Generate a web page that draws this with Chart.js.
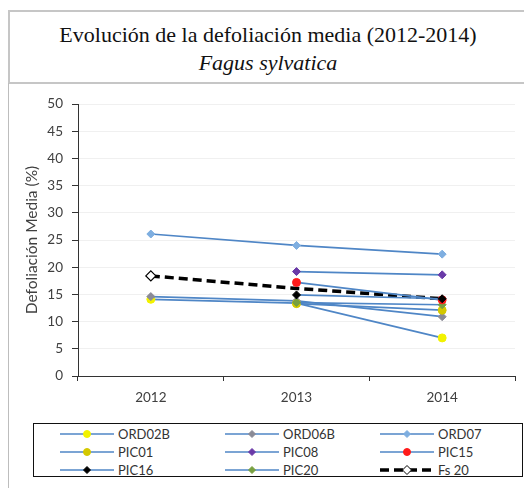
<!DOCTYPE html>
<html>
<head>
<meta charset="utf-8">
<script src="https://cdn.jsdelivr.net/npm/chart.js@4/dist/chart.umd.min.js"></script>
<style>
  html, body { margin: 0; padding: 0; background: #fff; }
  body { width: 524px; height: 488px; position: relative; overflow: hidden; }
  #titlebox {
    position: absolute; left: 8px; top: 10px; width: 530px; height: 70px;
    border: 2px solid #c6c6c6; box-sizing: content-box;
  }
  #titlebox div {
    position: absolute; left: 0; width: 516px; text-align: center;
    font-family: "Liberation Serif", serif; font-size: 22px; color: #111;
  }
  #t1 { top: 10px; }
  #t2 { top: 38px; font-style: italic; }
  #frame { position: absolute; left: 8px; top: 83px; width: 1px; height: 405px; background: #bdbdbd; }
  #wrap { position: absolute; left: 0; top: 83px; width: 524px; height: 340px; }
  #legend {
    position: absolute; left: 33px; top: 423px; width: 490px; height: 54px;
    border: 1px solid #111; box-sizing: border-box;
    font-family: Lato, "Open Sans", sans-serif; font-size: 13px; color: #333;
  }
  .item { position: absolute; height: 14px; line-height: 14px; white-space: nowrap; }
  .item canvas { position: absolute; left: 0; top: 1px; }
  .item span { position: absolute; left: 58px; top: 0; }
</style>
</head>
<body>
<div id="titlebox">
  <div id="t1">Evolución de la defoliación media (2012-2014)</div>
  <div id="t2">Fagus sylvatica</div>
</div>
<div id="frame"></div>
<div id="wrap"><canvas id="chart" width="524" height="340"></canvas></div>
<div id="legend"></div>
<script>
var years = ["2012", "2013", "2014"];

var seriesNames = ["ORD02B", "ORD06B", "ORD07", "PIC01", "PIC08", "PIC15", "PIC16", "PIC20", "Fs 20"];

var ord02b = [14.1, 13.4, 7.0];
var ord06b = [14.6, 13.8, 10.9];
var ord07 = [26.1, 24.0, 22.4];
var pic01 = [null, 13.3, 12.1];
var pic08 = [null, 19.2, 18.6];
var pic15 = [null, 17.2, 14.0];
var pic16 = [null, 14.9, 14.2];
var pic20 = [null, 13.5, 13.1];
var fs20 = [18.4, 16.1, 14.2];

var seriesValues = [ord02b, ord06b, ord07, pic01, pic08, pic15, pic16, pic20, fs20];

var LINE = "#4f86c6";
var markerColors = ["#f2f200", "#8a8a96", "#7eaee0", "#d4c800", "#6a3aa8", "#ff1a1a", "#000000", "#78a040", "#ffffff"];
var markerStyles = ["circle", "rectRot", "rectRot", "circle", "rectRot", "circle", "rectRot", "rectRot", "rectRot"];

var datasets = seriesValues.map(function (vals, i) {
  var isAvg = seriesNames[i] === "Fs 20";
  return {
    label: seriesNames[i],
    data: vals,
    borderColor: isAvg ? "#000" : LINE,
    borderWidth: isAvg ? 3.5 : 1.7,
    borderDash: isAvg ? [9, 5] : [],
    tension: 0,
    pointStyle: markerStyles[i],
    // the average series only shows its open marker on the first year
    pointRadius: isAvg ? function (c) { return c.dataIndex === 0 ? 5 : 0; } : 4,
    pointBackgroundColor: markerColors[i],
    pointBorderColor: isAvg ? "#000" : markerColors[i],
    pointBorderWidth: isAvg ? 1.2 : 1,
    order: isAvg ? 1 : 10 - i,
  };
});
// PIC15 / PIC16 markers sit above the dashed mean line, PIC16 on top
datasets[5].order = 0;
datasets[6].order = -1;

var TICK = "#404040";
var AXIS = "#333333";
var FONT = "Lato, 'Open Sans', sans-serif";

new Chart(document.getElementById("chart"), {
  type: "line",
  data: { labels: years, datasets: datasets },
  options: {
    responsive: false,
    animation: false,
    layout: { padding: { top: 21, right: 9, left: 0, bottom: 0 } },
    plugins: {
      legend: { display: false },
      title: { display: false },
      tooltip: { enabled: false },
    },
    scales: {
      x: {
        offset: true,
        grid: { display: true, drawOnChartArea: false, offset: true, tickLength: 5, tickColor: AXIS },
        border: { color: AXIS, width: 1 },
        ticks: { color: TICK, padding: 9, font: { family: FONT, size: 13.5 } },
        afterFit: function (s) { s.height = 47; },
      },
      y: {
        min: 0,
        max: 50,
        ticks: { stepSize: 5, color: TICK, padding: 9, font: { family: FONT, size: 13.5 } },
        grid: { color: "#f0f0f0", tickLength: 6, tickColor: AXIS },
        border: { color: AXIS, width: 1 },
        title: {
          display: true,
          text: "Defoliación Media (%)",
          color: TICK,
          padding: { top: 23, bottom: 0 },
          font: { family: FONT, size: 15.5 },
        },
        afterFit: function (s) { s.width = 78; },
      },
    },
  },
});

// legend: 3 columns, line sample with marker in the middle
var legendEl = document.getElementById("legend");
var colX = [26, 191, 346];
var rowY = [3, 21, 39];
seriesNames.forEach(function (name, i) {
  var item = document.createElement("div");
  item.className = "item";
  item.style.left = colX[i % 3] + "px";
  item.style.top = rowY[Math.floor(i / 3)] + "px";
  var c = document.createElement("canvas");
  c.width = 54;
  c.height = 12;
  var ctx = c.getContext("2d");
  var isAvg = name === "Fs 20";
  ctx.strokeStyle = isAvg ? "#000" : LINE;
  ctx.lineWidth = isAvg ? 3.5 : 1.6;
  ctx.setLineDash(isAvg ? [9, 5] : []);
  ctx.beginPath();
  ctx.moveTo(0, 6);
  ctx.lineTo(54, 6);
  ctx.stroke();
  ctx.setLineDash([]);
  ctx.fillStyle = markerColors[i];
  ctx.strokeStyle = isAvg ? "#000" : markerColors[i];
  ctx.lineWidth = 1;
  var r = isAvg ? 4.5 : 3.5;
  ctx.beginPath();
  if (markerStyles[i] === "circle") {
    ctx.arc(27, 6, r, 0, Math.PI * 2);
  } else {
    ctx.moveTo(27, 6 - r);
    ctx.lineTo(27 + r, 6);
    ctx.lineTo(27, 6 + r);
    ctx.lineTo(27 - r, 6);
    ctx.closePath();
  }
  ctx.fill();
  ctx.stroke();
  var label = document.createElement("span");
  label.textContent = name;
  item.appendChild(c);
  item.appendChild(label);
  legendEl.appendChild(item);
});
</script>
</body>
</html>
